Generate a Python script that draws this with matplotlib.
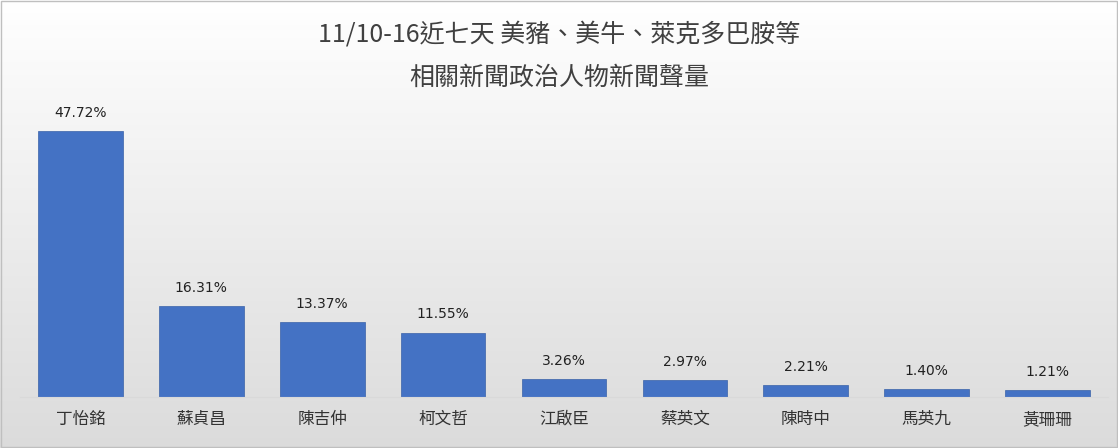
import matplotlib
matplotlib.use("Agg")
import matplotlib.pyplot as plt
import numpy as np

plt.rcParams['font.family'] = ['Noto Sans CJK TC', 'DejaVu Sans']

names = ["丁怡銘", "蘇貞昌", "陳吉仲", "柯文哲", "江啟臣", "蔡英文", "陳時中", "馬英九", "黃珊珊"]
values = [47.72, 16.31, 13.37, 11.55, 3.26, 2.97, 2.21, 1.40, 1.21]
labels = ["47.72%", "16.31%", "13.37%", "11.55%", "3.26%", "2.97%", "2.21%", "1.40%", "1.21%"]

fig = plt.figure(figsize=(11.18, 4.48), dpi=100)
bg = fig.add_axes([0, 0, 1, 1], zorder=-2)
grad = np.linspace(1.0, 0.86, 256).reshape(-1, 1)
bg.imshow(np.dstack([grad, grad, grad]), aspect='auto', extent=[0, 1, 0, 1], origin='upper')
bg.set_axis_off()
bg.add_patch(plt.Rectangle((0.001, 0.002), 0.998, 0.996, fill=False, ec='#bfbfbf', lw=1, transform=bg.transAxes))

ax = fig.add_axes([20/1118, 51/448, 1088/1118, 297/448])
ax.patch.set_alpha(0)
x = np.arange(len(values))
ax.bar(x, values, width=0.7, color='#4472C4', edgecolor='#3a62a8', lw=0.5)
for xi, v, l in zip(x, values, labels):
    ax.text(xi, v + 2.0, l, ha='center', va='bottom', fontsize=10, color='#222222', family='DejaVu Sans')
ax.set_xlim(-0.5, len(values) - 0.5)
ax.set_ylim(0, 53.3)
ax.set_yticks([])
ax.set_xticks(x)
ax.set_xticklabels(names, fontsize=12, color='#333333')
ax.tick_params(axis='x', length=0, pad=10)
for s in ['top', 'right', 'left']:
    ax.spines[s].set_visible(False)
ax.spines['bottom'].set_color('#d9d9d9')

fig.text(0.5, 1 - 35/448, "11/10-16近七天 美豬、美牛、萊克多巴胺等", ha='center', va='center', fontsize=18, color='#404040')
fig.text(0.5, 1 - 78/448, "相關新聞政治人物新聞聲量", ha='center', va='center', fontsize=18, color='#404040')

fig.savefig("out.png", dpi=100)
